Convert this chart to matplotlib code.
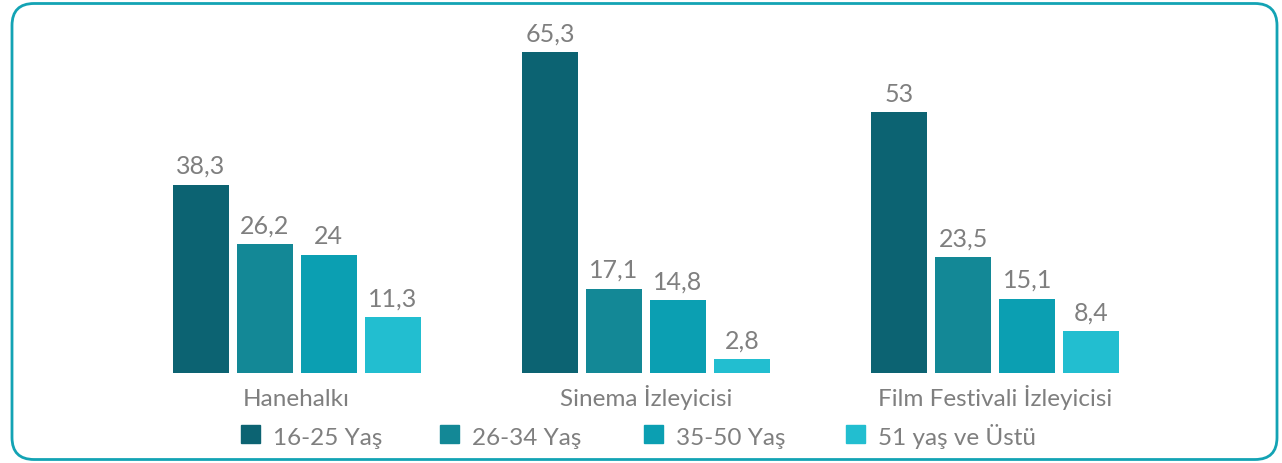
import matplotlib
matplotlib.use("Agg")
import matplotlib.pyplot as plt
from matplotlib.patches import FancyBboxPatch, Rectangle
import numpy as np

categories = ["Hanehalkı", "Sinema İzleyicisi", "Film Festivali İzleyicisi"]
series_names = ["16-25 Yaş", "26-34 Yaş", "35-50 Yaş", "51 yaş ve Üstü"]
values = [
    [38.3, 65.3, 53.0],   # 16-25 Yaş
    [26.2, 17.1, 23.5],   # 26-34 Yaş
    [24.0, 14.8, 15.1],   # 35-50 Yaş
    [11.3, 2.8, 8.4],     # 51 yaş ve Üstü
]
colors = ["#0C6372", "#138896", "#0B9FB2", "#22BED0"]
TEXT = "#7F7F7F"

plt.rcParams["font.family"] = ["Lato", "DejaVu Sans"]
W, H = 1282, 464
fig = plt.figure(figsize=(W / 100, H / 100), dpi=100)

# frame (pixel coordinates, origin bottom-left)
fig.patches.append(FancyBboxPatch((12, 3.5), 1265, 456,
                                  boxstyle="round,pad=0,rounding_size=22",
                                  transform=None, fill=False,
                                  edgecolor="#13A3B4", linewidth=2.0))

left, right = 122, 1170
base = 373.7
ymax = 70
ppu = 4.91
top = base - ymax * ppu
ax = fig.add_axes([left / W, 1 - base / H, (right - left) / W, (base - top) / H])
ax.set_xlim(-0.5, 2.5)
ax.set_ylim(0, ymax)
ax.axis("off")

pitch = 64 / 349
width = 56 / 349
x = np.arange(len(categories))
for i, (name, vals) in enumerate(zip(series_names, values)):
    pos = x + (i - 1.5) * pitch
    ax.bar(pos, vals, width=width, color=colors[i], label=name)
    for p, v in zip(pos, vals):
        lbl = f"{v:g}".replace(".", ",")
        ax.annotate(lbl, xy=(p, v), xytext=(0, 8.5), textcoords="offset points",
                    ha="center", va="baseline", fontsize=18, color=TEXT)

for xi, c in zip(x, categories):
    ax.annotate(c, xy=(xi, 0), xycoords=("data", "axes fraction"),
                xytext=(0, -23), textcoords="offset points",
                ha="center", va="baseline", fontsize=17.5, color=TEXT)

# legend
leg_x = [241, 439.5, 644, 846]
for lx, name, col in zip(leg_x, series_names, colors):
    fig.patches.append(Rectangle((lx / W, 1 - 444 / H), 19 / W, 18 / H,
                                 transform=fig.transFigure, color=col))
    fig.text((lx + 32) / W, 1 - 445 / H, name, ha="left", va="baseline",
             fontsize=17.5, color=TEXT)

fig.savefig("out.png", dpi=100)
